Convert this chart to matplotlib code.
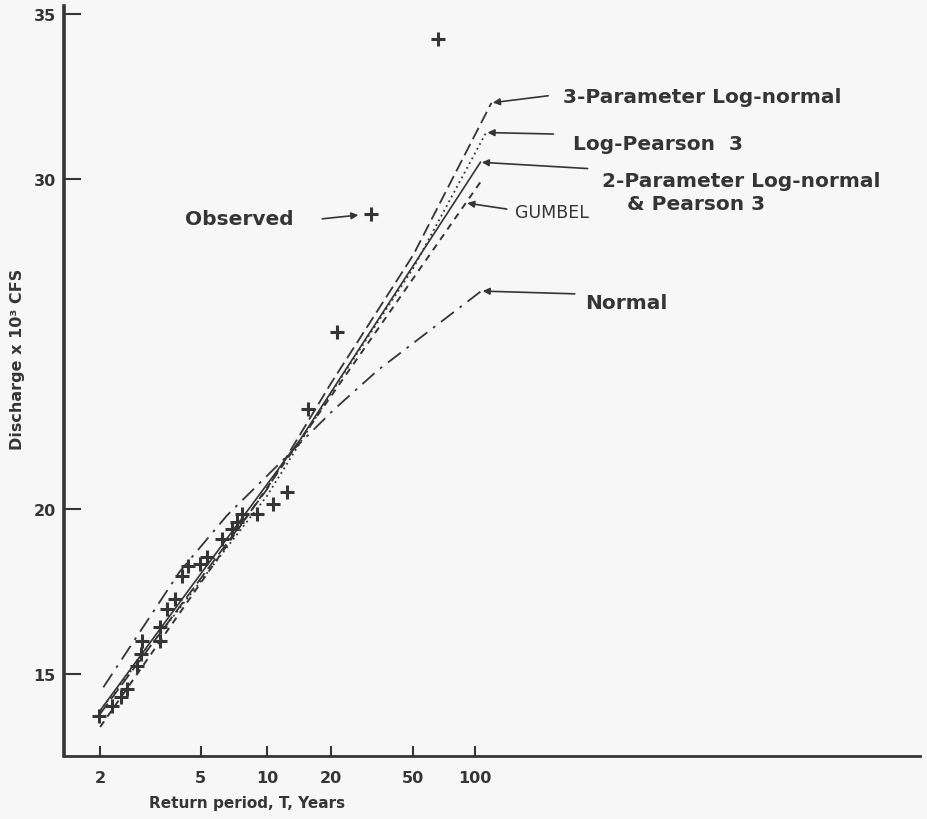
import numpy as np
import matplotlib
matplotlib.use('Agg')
import matplotlib.pyplot as plt

# observed annual peaks: return period (years) and discharge (x 10^3 cfs)
obs_T = [1.98, 2.19, 2.37, 2.50, 2.73, 2.83, 2.86, 3.35, 3.35, 3.61, 3.87, 4.14, 4.39,
         4.96, 5.32, 6.21, 6.90, 7.26, 7.66, 8.98, 10.7, 12.4, 15.5, 21.5, 31.1, 65.9]
obs_Q = [13.73, 14.03, 14.30, 14.55, 15.24, 15.61, 16.00, 16.00, 16.42, 16.97, 17.27, 17.97, 18.27,
         18.33, 18.55, 19.09, 19.39, 19.61, 19.85, 19.85, 20.15, 20.52, 23.03, 25.36, 28.94, 34.24]

# fitted distributions
ln3_T = [2.0, 10.0, 20.0, 50.0, 120.0]
ln3_Q = [13.8, 20.6, 23.8, 27.7, 32.3]

lp3_T = [2.0, 10.0, 20.0, 50.0, 113.0]
lp3_Q = [13.9, 20.4, 23.5, 27.3, 31.4]

ln2_T = [2.0, 4.5, 14.3, 106.0]
ln2_Q = [13.9, 17.6, 22.1, 30.5]

gum_T = [2.0, 16.3, 106.0]
gum_Q = [13.4, 22.6, 29.9]

nor_T = [2.05, 4.06, 6.54, 20.6, 33.6, 107.0]
nor_Q = [14.6, 18.1, 19.8, 23.0, 24.2, 26.6]

x_ticks = [2, 5, 10, 20, 50, 100]
y_ticks = [15, 20, 30, 35]

ink = '#353535'


def fwd(T):
    T = np.clip(np.asarray(T, dtype=float), 1.0001, None)
    return -np.log(-np.log1p(-1.0 / T))


def inv(y):
    y = np.asarray(y, dtype=float)
    return -1.0 / np.expm1(-np.exp(-y))


plt.rcParams['font.family'] = ['DejaVu Sans']

fig = plt.figure(figsize=(9.27, 8.2), dpi=100, facecolor='#f7f7f7')
ax = fig.add_axes([0.069, 0.0768, 0.923, 0.915])
ax.set_facecolor('#f7f7f7')
ax.set_xscale('function', functions=(fwd, inv))

ax.plot(ln3_T, ln3_Q, color=ink, lw=1.3, ls=(0, (7, 3)))
ax.plot(lp3_T, lp3_Q, color=ink, lw=1.3, ls=(0, (1, 2)))
ax.plot(ln2_T, ln2_Q, color=ink, lw=1.2, ls='-')
ax.plot(gum_T, gum_Q, color=ink, lw=1.4, ls=(0, (3.5, 3)))
ax.plot(nor_T, nor_Q, color=ink, lw=1.3, ls=(0, (9, 4, 1.5, 4)))
ax.plot(obs_T, obs_Q, ls='none', marker='+', ms=10, mew=2.2, color=ink)

ax.set_xlim(1.544, 15000)
ax.set_ylim(12.52, 35.24)

ax.set_xticks(x_ticks)
ax.set_xticklabels([str(t) for t in x_ticks])
ax.set_yticks(y_ticks)
ax.minorticks_off()
ax.tick_params(axis='x', direction='in', length=7, width=1.5, color=ink,
               labelsize=11.5, labelcolor=ink, pad=10)
ax.tick_params(axis='y', direction='in', length=12, width=1.5, color=ink,
               labelsize=11.5, labelcolor=ink, pad=6)
for lab in ax.get_xticklabels() + ax.get_yticklabels():
    lab.set_fontweight('bold')

for side in ['top', 'right']:
    ax.spines[side].set_visible(False)
ax.spines['left'].set_linewidth(2.6)
ax.spines['bottom'].set_linewidth(2.0)
ax.spines['left'].set_color(ink)
ax.spines['bottom'].set_color(ink)

ax.set_xlabel('Return period, T, Years', fontsize=11, fontweight='bold', color=ink)
ax.xaxis.set_label_coords(0.214, -0.052)
ax.set_ylabel('Discharge x 10³ CFS', fontsize=11.5, fontweight='bold', color=ink)
ax.yaxis.set_label_coords(-0.046, 0.53)

arrow = dict(arrowstyle='-|>', color=ink, lw=1.2, mutation_scale=10, shrinkA=0, shrinkB=1)
txt = dict(fontsize=14.5, fontweight='bold', color=ink, va='center', ha='left',
           transform=ax.transAxes)

# labels pointing at the upper ends of the fitted curves
labels = [
    ('3-Parameter Log-normal', ln3_T[-1], ln3_Q[-1], (0.566, 0.880), (0.583, 0.879)),
    ('Log-Pearson  3', lp3_T[-1], lp3_Q[-1], (0.572, 0.829), (0.595, 0.816)),
    ('2-Parameter Log-normal', ln2_T[-1], ln2_Q[-1], (0.612, 0.783), (0.629, 0.767)),
    ('Normal', nor_T[-1], nor_Q[-1], (0.597, 0.616), (0.609, 0.605)),
]
for name, tx, qy, tail, pos in labels:
    ax.annotate('', xy=(tx, qy), xycoords='data', xytext=tail, textcoords='axes fraction',
                arrowprops=arrow)
    ax.text(pos[0], pos[1], name, **txt)
ax.text(0.658, 0.736, '& Pearson 3', **txt)

# Gumbel arrow hits the dashed line a little below its end
g_tip_T = 90.0
g_tip_Q = np.interp(fwd(g_tip_T), fwd(gum_T), gum_Q)
ax.annotate('', xy=(g_tip_T, g_tip_Q), xycoords='data', xytext=(0.5175, 0.729),
            textcoords='axes fraction', arrowprops=arrow)
ax.text(0.527, 0.725, 'GUMBEL', fontsize=12.5, color=ink, va='center', ha='left',
        transform=ax.transAxes)

# observed marker callout (second largest flood)
ax.annotate('', xy=(obs_T[-2], obs_Q[-2]), xycoords='data', xytext=(0.302, 0.716),
            textcoords='axes fraction',
            arrowprops=dict(arrowstyle='-|>', color=ink, lw=1.2, mutation_scale=10,
                            shrinkA=0, shrinkB=9))
ax.text(0.141, 0.716, 'Observed', **txt)

fig.savefig('out.png', dpi=100, facecolor=fig.get_facecolor())
